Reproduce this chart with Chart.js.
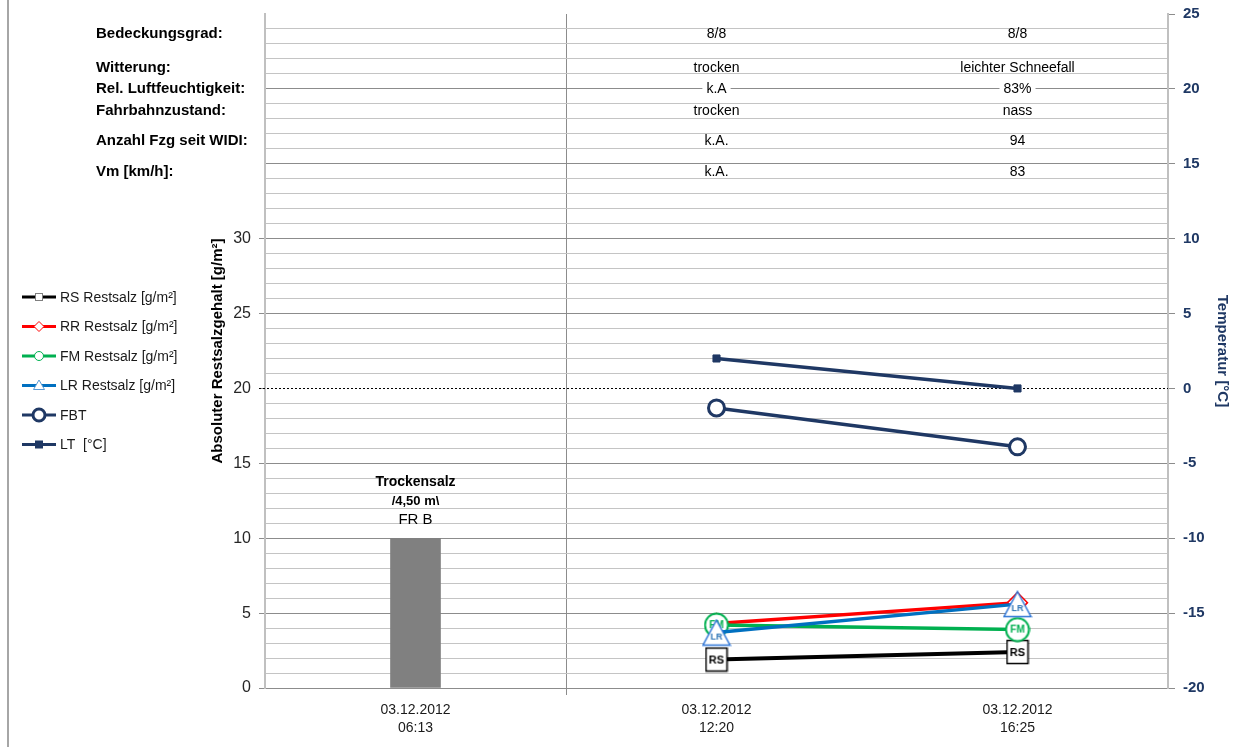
<!DOCTYPE html>
<html>
<head>
<meta charset="utf-8">
<script src="https://cdn.jsdelivr.net/npm/chart.js@4"></script>
<style>
  html, body { margin: 0; padding: 0; background: #fff; }
  #wrap { position: relative; width: 1253px; height: 747px; }
  #frame { position: absolute; left: 7px; top: 0; width: 2px; height: 747px; background: #a6a6a6; }
</style>
</head>
<body>
<div id="wrap">
  <canvas id="c" width="1253" height="747"></canvas>
  <div id="frame"></div>
</div>
<script>
// ---------------- data ----------------
const categories = [['03.12.2012', '06:13'], ['03.12.2012', '12:20'], ['03.12.2012', '16:25']];
const trockensalzValues = [10, null, null];
const rsValues = [null, 1.9, 2.4];
const rrValues = [null, 4.3, 5.7];
const fmValues = [null, 4.2, 3.9];
const lrValues = [null, 3.7, 5.6];
const fbtValues = [null, -1.3, -3.9];
const ltValues = [null, 2.0, 0.0];

const seriesNames = ['RS Restsalz [g/m²]', 'RR Restsalz [g/m²]', 'FM Restsalz [g/m²]', 'LR Restsalz [g/m²]', 'FBT', 'LT  [°C]'];
const leftTickLabels = [0, 5, 10, 15, 20, 25, 30];
const rightTickLabels = [-20, -15, -10, -5, 0, 5, 10, 15, 20, 25];

const tableLabels = ['Bedeckungsgrad:', 'Witterung:', 'Rel. Luftfeuchtigkeit:', 'Fahrbahnzustand:', 'Anzahl Fzg seit WIDI:', 'Vm [km/h]:'];
const tableCol1220 = ['8/8', 'trocken', 'k.A', 'trocken', 'k.A.', 'k.A.'];
const tableCol1625 = ['8/8', 'leichter Schneefall', '83%', 'nass', '94', '83'];
const barNote = ['Trockensalz', '/4,50 m\\', 'FR B'];

// ---------------- styles ----------------
const FONT = '"Liberation Sans", Arial, sans-serif';
const NAVY = '#1F3864';
const RED = '#FF0000';
const GREEN = '#00B050';
const BLUE = '#0070C0';
const MAJOR = '#8C8C8C';
const MINOR = '#C4C4C4';
const CLEAR = 'rgba(0,0,0,0)';

function makeMarker(kind) {
  const c = document.createElement('canvas');
  let g;
  if (kind === 'RS') {
    c.width = 24; c.height = 26; g = c.getContext('2d');
    g.fillStyle = '#fff'; g.fillRect(1, 1, 22, 24);
    g.strokeStyle = '#000'; g.lineWidth = 1.5; g.strokeRect(1.5, 1.5, 21, 23);
    g.fillStyle = '#000'; g.font = 'bold 11px ' + FONT;
    g.textAlign = 'center'; g.textBaseline = 'middle'; g.fillText('RS', 12, 13.5);
  } else if (kind === 'FM') {
    c.width = 26; c.height = 26; g = c.getContext('2d');
    g.beginPath(); g.arc(13, 13, 11.5, 0, Math.PI * 2);
    g.fillStyle = '#fff'; g.fill();
    g.strokeStyle = GREEN; g.lineWidth = 2; g.stroke();
    g.fillStyle = GREEN; g.font = 'bold 10px ' + FONT;
    g.textAlign = 'center'; g.textBaseline = 'middle'; g.fillText('FM', 13, 13.5);
  } else if (kind === 'LR') {
    c.width = 30; c.height = 28; g = c.getContext('2d');
    g.beginPath(); g.moveTo(15, 1.5); g.lineTo(28.5, 26.5); g.lineTo(1.5, 26.5); g.closePath();
    g.fillStyle = '#fff'; g.fill();
    g.strokeStyle = '#2E75D6'; g.lineWidth = 1.5; g.stroke();
    g.fillStyle = '#2E75B6'; g.font = 'bold 9px ' + FONT;
    g.textAlign = 'center'; g.textBaseline = 'middle'; g.fillText('LR', 15, 19);
  }
  return c;
}

const legendKinds = ['RS', 'RR', 'FM', 'LR', 'FBT', 'LT'];

function drawLegendMarker(ctx, kind, x, y) {
  ctx.save();
  if (kind === 'RS') {
    ctx.fillStyle = '#fff'; ctx.fillRect(x - 3.5, y - 3.5, 7, 7);
    ctx.strokeStyle = '#7F7F7F'; ctx.lineWidth = 1; ctx.strokeRect(x - 3.5, y - 3.5, 7, 7);
  } else if (kind === 'RR') {
    ctx.beginPath(); ctx.moveTo(x, y - 5); ctx.lineTo(x + 5, y); ctx.lineTo(x, y + 5); ctx.lineTo(x - 5, y); ctx.closePath();
    ctx.fillStyle = '#fff'; ctx.fill(); ctx.strokeStyle = RED; ctx.lineWidth = 1; ctx.stroke();
  } else if (kind === 'FM') {
    ctx.beginPath(); ctx.arc(x, y, 4.5, 0, Math.PI * 2);
    ctx.fillStyle = '#fff'; ctx.fill(); ctx.strokeStyle = GREEN; ctx.lineWidth = 1; ctx.stroke();
  } else if (kind === 'LR') {
    ctx.beginPath(); ctx.moveTo(x, y - 5.5); ctx.lineTo(x + 5.5, y + 4); ctx.lineTo(x - 5.5, y + 4); ctx.closePath();
    ctx.fillStyle = '#fff'; ctx.fill(); ctx.strokeStyle = '#5B9BD5'; ctx.lineWidth = 1; ctx.stroke();
  } else if (kind === 'FBT') {
    ctx.beginPath(); ctx.arc(x, y, 6, 0, Math.PI * 2);
    ctx.fillStyle = '#fff'; ctx.fill(); ctx.strokeStyle = NAVY; ctx.lineWidth = 3; ctx.stroke();
  } else if (kind === 'LT') {
    ctx.fillStyle = NAVY; ctx.fillRect(x - 4, y - 4, 8, 8);
  }
  ctx.restore();
}

const decorPlugin = {
  id: 'decor',
  beforeDatasetsDraw(chart) {
    const { ctx, chartArea, scales } = chart;
    // dotted 0 °C line
    const y0 = Math.round(scales.y1.getPixelForValue(0)) + 0.5;
    ctx.save();
    ctx.strokeStyle = '#000'; ctx.lineWidth = 1; ctx.setLineDash([2, 2]);
    ctx.beginPath(); ctx.moveTo(chartArea.left - 6, y0); ctx.lineTo(chartArea.right, y0); ctx.stroke();
    ctx.restore();
  },
  afterDraw(chart) {
    const { ctx, scales } = chart;
    ctx.save();
    // table rows
    const rowY = [34, 68, 89, 111, 141, 172];
    ctx.textBaseline = 'middle';
    ctx.fillStyle = '#000';
    ctx.font = 'bold 15px ' + FONT;
    ctx.textAlign = 'left';
    tableLabels.forEach((t, i) => ctx.fillText(t, 96, rowY[i]));
    ctx.font = '14px ' + FONT;
    ctx.textAlign = 'center';
    const cols = [[1, tableCol1220], [2, tableCol1625]];
    cols.forEach(([idx, vals]) => {
      const x = scales.x.getPixelForValue(idx);
      vals.forEach((t, i) => {
        const w = ctx.measureText(t).width;
        ctx.fillStyle = '#fff';
        ctx.fillRect(x - w / 2 - 4, rowY[i] - 3, w + 8, 6);
        ctx.fillStyle = '#000';
        ctx.fillText(t, x, rowY[i]);
      });
    });
    // bar annotation
    const bx = scales.x.getPixelForValue(0);
    const by = scales.y.getPixelForValue(trockensalzValues[0]);
    ctx.fillStyle = '#000';
    ctx.font = 'bold 14px ' + FONT;
    ctx.fillText(barNote[0], bx, by - 56);
    ctx.font = 'bold 13px ' + FONT;
    ctx.fillText(barNote[1], bx, by - 37);
    ctx.font = '15px ' + FONT;
    ctx.fillText(barNote[2], bx, by - 18);
    // legend
    ctx.textAlign = 'left';
    ctx.font = '14px ' + FONT;
    const lineDs = chart.data.datasets.filter(d => d.type === 'line');
    lineDs.forEach((d, i) => {
      const y = 297 + i * 29.5;
      ctx.strokeStyle = d.borderColor; ctx.lineWidth = 3;
      ctx.beginPath(); ctx.moveTo(22, y); ctx.lineTo(56, y); ctx.stroke();
      drawLegendMarker(ctx, legendKinds[i], 39, y);
      ctx.fillStyle = '#1a1a1a';
      ctx.fillText(d.label, 60, y + 1);
    });
    ctx.restore();
  }
};

new Chart(document.getElementById('c'), {
  type: 'bar',
  data: {
    labels: categories,
    datasets: [
      { type: 'line', label: seriesNames[0], data: rsValues, yAxisID: 'y', order: 4,
        borderColor: '#000', borderWidth: 4, pointStyle: makeMarker('RS'), pointRadius: 10, spanGaps: false },
      { type: 'line', label: seriesNames[1], data: rrValues, yAxisID: 'y', order: 3,
        borderColor: RED, borderWidth: 3.5, pointStyle: 'rectRot', pointRadius: 10,
        pointBackgroundColor: '#fff', pointBorderColor: RED, pointBorderWidth: 1.5 },
      { type: 'line', label: seriesNames[2], data: fmValues, yAxisID: 'y', order: 2,
        borderColor: GREEN, borderWidth: 3.5, pointStyle: makeMarker('FM'), pointRadius: 10 },
      { type: 'line', label: seriesNames[3], data: lrValues, yAxisID: 'y', order: 1,
        borderColor: BLUE, borderWidth: 3.5, pointStyle: makeMarker('LR'), pointRadius: 10 },
      { type: 'line', label: seriesNames[4], data: fbtValues, yAxisID: 'y1', order: 6,
        borderColor: NAVY, borderWidth: 3.5, pointStyle: 'circle', pointRadius: 8,
        pointBackgroundColor: '#fff', pointBorderColor: NAVY, pointBorderWidth: 3 },
      { type: 'line', label: seriesNames[5], data: ltValues, yAxisID: 'y1', order: 5,
        borderColor: NAVY, borderWidth: 3.5, pointStyle: 'rect', pointRadius: 5,
        pointBackgroundColor: NAVY, pointBorderColor: NAVY, pointBorderWidth: 1 },
      { type: 'bar', label: barNote[0], data: trockensalzValues, yAxisID: 'y', order: 7,
        backgroundColor: '#808080', borderWidth: 0, barThickness: 50 }
    ]
  },
  options: {
    responsive: false,
    animation: false,
    events: [],
    layout: { padding: { left: 205, top: 12, right: 0, bottom: 0 } },
    plugins: { legend: { display: false }, tooltip: { enabled: false } },
    scales: {
      x: {
        offset: true,
        grid: {
          offset: true,
          color: c => c.index === 1 ? MAJOR : CLEAR,
          tickColor: c => c.index === 1 ? MAJOR : CLEAR,
          tickLength: 7
        },
        border: { color: MAJOR, width: 1 },
        ticks: { color: '#1a1a1a', font: { family: FONT, size: 14, lineHeight: 1.3 }, padding: 6, maxRotation: 0 },
        afterFit: s => { s.height = 59; s.paddingLeft = 0; s.paddingRight = 0; }
      },
      y: {
        position: 'left',
        min: 0, max: 45,
        ticks: {
          stepSize: 1, autoSkip: false,
          color: '#262626', font: { family: FONT, size: 16 }, padding: 8,
          callback: v => leftTickLabels.includes(v) ? String(v) : ''
        },
        grid: {
          color: c => {
            const v = c.tick.value;
            if (v === 45 || v === 20) return CLEAR;
            return v % 5 === 0 ? MAJOR : MINOR;
          },
          tickColor: c => leftTickLabels.includes(c.tick.value) ? MAJOR : CLEAR,
          tickLength: 6
        },
        border: { color: '#C0C0C0', width: 2 },
        title: {
          display: true, text: 'Absoluter Restsalzgehalt [g/m²]', color: '#000',
          font: { family: FONT, size: 15, weight: 'bold' }, padding: { top: 4, bottom: 0 }
        },
        afterFit: s => { s.width = 60; s.paddingTop = 0; s.paddingBottom = 0; }
      },
      y1: {
        position: 'right',
        min: -20, max: 25,
        ticks: {
          stepSize: 5, autoSkip: false,
          color: NAVY, font: { family: FONT, size: 15, weight: 'bold' }, padding: 8,
          callback: v => rightTickLabels.includes(v) ? String(v) : ''
        },
        grid: { drawOnChartArea: false, tickColor: MAJOR, tickLength: 7 },
        border: { color: '#C0C0C0', width: 2 },
        title: {
          display: true, text: 'Temperatur [°C]', color: NAVY,
          font: { family: FONT, size: 15, weight: 'bold' }, padding: { top: 22, bottom: 0 }
        },
        afterFit: s => { s.width = 85; s.paddingTop = 0; s.paddingBottom = 0; }
      }
    }
  },
  plugins: [decorPlugin]
});
</script>
</body>
</html>
